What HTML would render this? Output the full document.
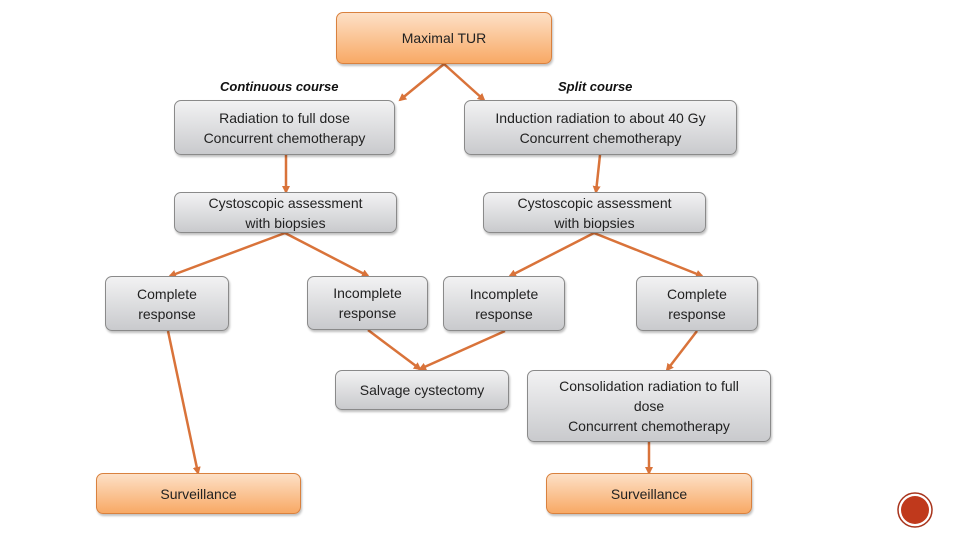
<!DOCTYPE html>
<html><head><style>
body{margin:0;width:960px;height:540px;background:#fff;position:relative;overflow:hidden;font-family:"Liberation Sans",sans-serif}
.b{position:absolute;box-sizing:border-box;border:1.5px solid #8a8a8a;border-radius:7px;background:linear-gradient(#f2f2f3,#c9cacd);display:flex;align-items:center;justify-content:center;text-align:center;font-size:14px;line-height:20px;color:#222;box-shadow:1px 2px 2px rgba(0,0,0,.25)}
.o{background:linear-gradient(#fde0c6,#f8a965);border-color:#d9813e}
.l{position:absolute;font-size:13px;font-weight:bold;font-style:italic;color:#111}
</style></head><body>
<svg width="960" height="540" style="position:absolute;left:0;top:0">
<defs><marker id="a" markerWidth="8" markerHeight="8" refX="6" refY="4" orient="auto" markerUnits="userSpaceOnUse"><path d="M0,0L8,4L0,8z" fill="#d9733a"/></marker></defs>
<g stroke="#d9733a" stroke-width="2.5" fill="none" marker-end="url(#a)">
<line x1="444" y1="64" x2="400" y2="100"/><line x1="444" y1="64" x2="484" y2="100"/>
<line x1="286" y1="155" x2="286" y2="192"/><line x1="600" y1="155" x2="596" y2="192"/>
<line x1="285" y1="233" x2="170" y2="276"/><line x1="285" y1="233" x2="368" y2="276"/>
<line x1="594" y1="233" x2="510" y2="276"/><line x1="594" y1="233" x2="702" y2="276"/>
<line x1="368" y1="330" x2="420" y2="369"/><line x1="505" y1="331" x2="420" y2="369"/>
<line x1="697" y1="331" x2="667" y2="370"/><line x1="168" y1="331" x2="198" y2="473"/>
<line x1="649" y1="442" x2="649" y2="473"/>
</g>
<circle cx="915" cy="510" r="17" fill="none" stroke="#a8341c" stroke-width="1.5"/>
<circle cx="915" cy="510" r="14" fill="#c0391c"/>
</svg>
<div class="b o" style="left:336px;top:12px;width:216px;height:52px">Maximal TUR</div>
<div class="l" style="left:220px;top:79px">Continuous course</div>
<div class="l" style="left:558px;top:79px">Split course</div>
<div class="b" style="left:174px;top:100px;width:221px;height:55px">Radiation to full dose<br>Concurrent chemotherapy</div>
<div class="b" style="left:464px;top:100px;width:273px;height:55px">Induction radiation to about 40 Gy<br>Concurrent chemotherapy</div>
<div class="b" style="left:174px;top:192px;width:223px;height:41px">Cystoscopic assessment<br>with biopsies</div>
<div class="b" style="left:483px;top:192px;width:223px;height:41px">Cystoscopic assessment<br>with biopsies</div>
<div class="b" style="left:105px;top:276px;width:124px;height:55px">Complete<br>response</div>
<div class="b" style="left:307px;top:276px;width:121px;height:54px">Incomplete<br>response</div>
<div class="b" style="left:443px;top:276px;width:122px;height:55px">Incomplete<br>response</div>
<div class="b" style="left:636px;top:276px;width:122px;height:55px">Complete<br>response</div>
<div class="b" style="left:335px;top:370px;width:174px;height:40px">Salvage cystectomy</div>
<div class="b" style="left:527px;top:370px;width:244px;height:72px">Consolidation radiation to full<br>dose<br>Concurrent chemotherapy</div>
<div class="b o" style="left:96px;top:473px;width:205px;height:41px">Surveillance</div>
<div class="b o" style="left:546px;top:473px;width:206px;height:41px">Surveillance</div>
</body></html>
